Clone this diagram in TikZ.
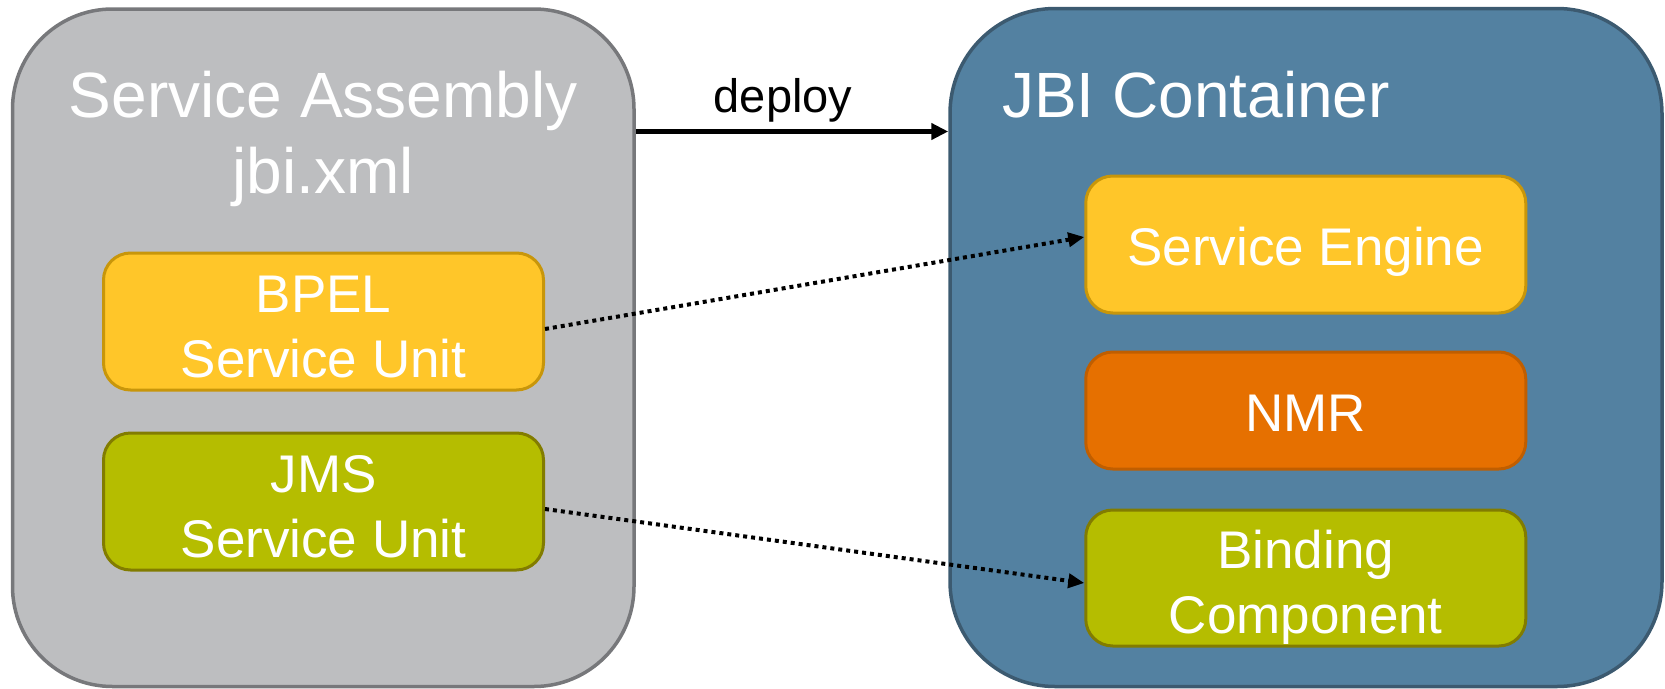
\documentclass[tikz,border=0pt]{standalone}
\usepackage{fontspec}
\setmainfont{Liberation Sans}
\usetikzlibrary{arrows.meta,calc}

\definecolor{saFill}{RGB}{189,190,192}
\definecolor{saLine}{RGB}{119,120,123}
\definecolor{jbiFill}{RGB}{83,129,161}
\definecolor{jbiLine}{RGB}{60,90,112}
\definecolor{seFill}{RGB}{255,198,41}
\definecolor{seLine}{RGB}{200,150,10}
\definecolor{nmrFill}{RGB}{230,112,0}
\definecolor{nmrLine}{RGB}{192,94,0}
\definecolor{bcFill}{RGB}{181,189,0}
\definecolor{bcLine}{RGB}{130,124,0}

\tikzset{
  container/.style={draw, line width=3.5pt, inner sep=0pt},
  unitbox/.style={draw, line width=3pt, inner sep=0pt, rounded corners=27pt,
    minimum width=440pt},
  title/.style={text=white, inner sep=0pt, font=\fontsize{64}{77}\selectfont},
  boxtext/.style={text=white, inner sep=0pt, font=\fontsize{53}{64}\selectfont},
  deployarrow/.style={line width=4.5pt, -{Triangle[length=17pt,width=16pt]}},
  link/.style={line width=4pt, dash pattern=on 4pt off 4pt,
    -{Triangle[length=16pt,width=14pt]}}
}

\begin{document}
\begin{tikzpicture}[x=1pt,y=-1pt]
\useasboundingbox (0,0) rectangle (1665,688);

% the two containers
\node[container, fill=saFill, draw=saLine, rounded corners=100pt,
      minimum width=621.5pt, minimum height=677.5pt] (sa) at (323.25,347.75) {};
\node[container, fill=jbiFill, draw=jbiLine, rounded corners=105pt,
      minimum width=712pt, minimum height=678pt] (jbi) at (1306,347.5) {};

\node[title, anchor=base] (saT1) at (323.25,117) {Service Assembly};
\node[title, anchor=base] (saT2) at (323.25,193) {jbi.xml};
\node[title, anchor=base west] (jbiT) at (1002,117) {JBI Container};

% service units inside the assembly
\node[unitbox, fill=seFill, draw=seLine, minimum height=137pt] (bpel) at (323.5,321.5) {};
\node[unitbox, fill=bcFill, draw=bcLine, minimum height=137pt] (jms) at (323.5,501.5) {};
\node[boxtext, anchor=base] (bpelT1) at ([yshift=9.5pt]bpel.center) {BPEL};
\node[boxtext, anchor=base] (bpelT2) at ([yshift=-55.5pt]bpel.center) {Service Unit};
\node[boxtext, anchor=base] (jmsT1) at ([yshift=9.5pt]jms.center) {JMS};
\node[boxtext, anchor=base] (jmsT2) at ([yshift=-55.5pt]jms.center) {Service Unit};

% components inside the container
\node[unitbox, fill=seFill, draw=seLine, minimum height=137pt] (se) at (1305.75,244.5) {};
\node[unitbox, fill=nmrFill, draw=nmrLine, minimum height=117pt] (nmr) at (1305.75,410.5) {};
\node[unitbox, fill=bcFill, draw=bcLine, minimum height=136pt] (bc) at (1305.75,578) {};
\node[boxtext, anchor=base] (seT) at ([yshift=-20.5pt]se.center) {Service Engine};
\node[boxtext, anchor=base] (nmrT) at ([yshift=-20.5pt]nmr.center) {NMR};
\node[boxtext, anchor=base] (bcT1) at ([yshift=9.5pt]bc.center) {Binding};
\node[boxtext, anchor=base] (bcT2) at ([yshift=-55.5pt]bc.center) {Component};

% deployment
\coordinate (dep) at (790,131.5);
\draw[deployarrow] (sa.east |- dep) -- (jbi.west |- dep);
\node[anchor=base, inner sep=0pt, font=\fontsize{47}{56}\selectfont] (depT) at (783,112) {deploy};

% unit-to-component links
\draw[link] ([yshift=-7.5pt]bpel.east) -- ([yshift=7.5pt]se.west);
\draw[link] ([yshift=-7.5pt]jms.east) -- ([yshift=-5pt]bc.west);
\end{tikzpicture}
\end{document}
